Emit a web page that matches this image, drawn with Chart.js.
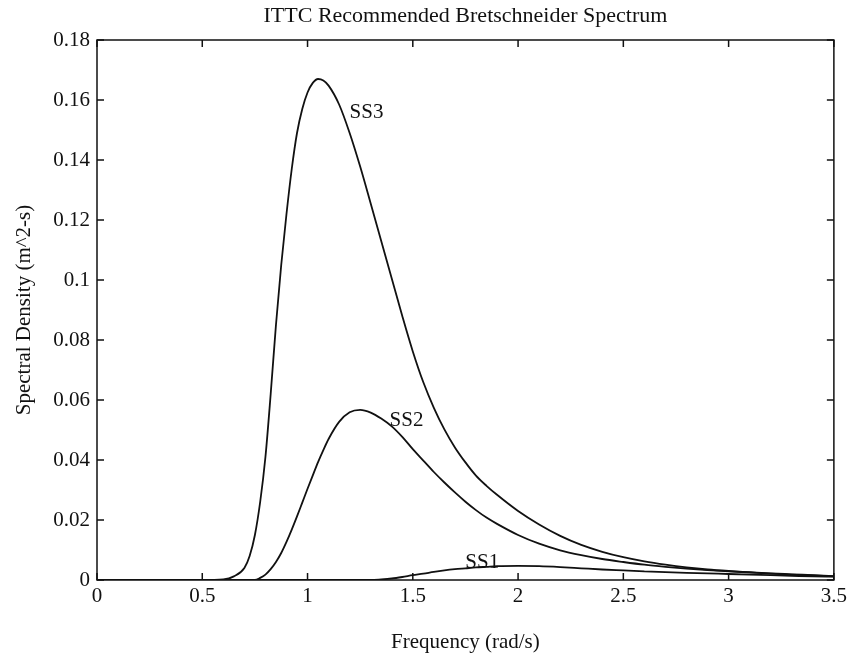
<!DOCTYPE html>
<html>
<head>
<meta charset="utf-8">
<title>ITTC Recommended Bretschneider Spectrum</title>
<script src="https://cdn.jsdelivr.net/npm/chart.js@4.4.1/dist/chart.umd.min.js"></script>
<style>
  html, body { margin: 0; padding: 0; background: #fff; }
  #wrap { width: 851px; height: 658px; }
</style>
</head>
<body>
<div id="wrap"><canvas id="chart" width="851" height="658"></canvas></div>
<script>
// frequency grid (rad/s) and spectral densities
const freq = [0, 0.5, 0.6, 0.65, 0.7, 0.725, 0.75, 0.775, 0.8, 0.825, 0.85, 0.875, 0.9, 0.925, 0.95, 0.975,
  1.0, 1.025, 1.05, 1.075, 1.1, 1.15, 1.2, 1.25, 1.3, 1.35, 1.4, 1.45, 1.5, 1.55, 1.6, 1.65, 1.7, 1.75, 1.8, 1.85, 1.9,
  2.0, 2.1, 2.2, 2.3, 2.4, 2.5, 2.6, 2.7, 2.8, 2.9, 3.0, 3.1, 3.2, 3.3, 3.4, 3.5];

const ss1 = [0, 0, 0, 0, 0, 0, 0, 0, 0, 0, 0, 0, 0, 0, 0, 0,
  0, 0, 0, 0, 0, 0, 0, 0, 0, 0.0002, 0.0005, 0.001, 0.0016, 0.0021, 0.0027, 0.0032, 0.0036, 0.0039, 0.0042, 0.0044, 0.0046,
  0.0047, 0.0046, 0.0043, 0.0039, 0.0035, 0.0032, 0.0029, 0.0026, 0.0024, 0.0022, 0.002, 0.0018, 0.0016, 0.0014, 0.0012, 0.0011];

const ss2 = [0, 0, 0, 0, 0, 0, 0, 0.0007, 0.0018, 0.0036, 0.006, 0.009, 0.0127, 0.0168, 0.0212, 0.0258,
  0.0304, 0.0349, 0.0393, 0.0433, 0.047, 0.0527, 0.0559, 0.0567, 0.0558, 0.0538, 0.0512, 0.0477, 0.0436, 0.0398, 0.036, 0.0325, 0.0292, 0.0261, 0.0233, 0.0208, 0.0187,
  0.015, 0.0121, 0.0099, 0.0083, 0.007, 0.006, 0.0051, 0.0044, 0.0038, 0.0033, 0.0029, 0.0025, 0.0021, 0.0018, 0.0015, 0.0012];

const ss3 = [0, 0, 0.0002, 0.0012, 0.004, 0.008, 0.015, 0.026, 0.041, 0.062, 0.085, 0.105, 0.122, 0.137, 0.149, 0.157,
  0.1625, 0.1657, 0.167, 0.1665, 0.1648, 0.1585, 0.149, 0.1378, 0.1255, 0.113, 0.1005, 0.088, 0.0762, 0.0659, 0.0574, 0.0502, 0.0442, 0.0392, 0.0348, 0.0314, 0.0284,
  0.023, 0.0185, 0.0147, 0.0117, 0.0094, 0.0076, 0.0062, 0.0051, 0.0042, 0.0035, 0.003, 0.0026, 0.0022, 0.0019, 0.0016, 0.0013];

const seriesNames = ['SS1', 'SS2', 'SS3'];
// curve label anchors, in data units
const labelFreq = [1.83, 1.47, 1.28];
const labelDensity = [0.006, 0.0533, 0.1557];

const xTicks = [0, 0.5, 1, 1.5, 2, 2.5, 3, 3.5];
const yTicks = [0, 0.02, 0.04, 0.06, 0.08, 0.1, 0.12, 0.14, 0.16, 0.18];

const chartTitle = 'ITTC Recommended Bretschneider Spectrum';

const ink = '#111';
const serif = '"Liberation Serif", "Times New Roman", serif';
Chart.defaults.font.family = serif;
Chart.defaults.font.size = 21;
Chart.defaults.color = ink;

const toPoints = (ys) => freq.map((f, i) => ({ x: f, y: ys[i] }));

// box round the plot, inward ticks on all four sides, title over the plot, curve labels
const framePlugin = {
  id: 'frame',
  afterDatasetsDraw(chart) {
    const { ctx, chartArea: a, scales: { x, y } } = chart;
    ctx.save();
    ctx.strokeStyle = ink;
    ctx.lineWidth = 1.5;
    ctx.strokeRect(a.left, a.top, a.right - a.left, a.bottom - a.top);
    ctx.beginPath();
    xTicks.forEach(v => {
      const px = x.getPixelForValue(v);
      ctx.moveTo(px, a.bottom); ctx.lineTo(px, a.bottom - 7);
      ctx.moveTo(px, a.top); ctx.lineTo(px, a.top + 7);
    });
    yTicks.forEach(v => {
      const py = y.getPixelForValue(v);
      ctx.moveTo(a.left, py); ctx.lineTo(a.left + 7, py);
      ctx.moveTo(a.right, py); ctx.lineTo(a.right - 7, py);
    });
    ctx.stroke();

    ctx.fillStyle = ink;
    ctx.textAlign = 'center';
    ctx.textBaseline = 'middle';
    ctx.font = '22px ' + serif;
    ctx.fillText(chartTitle, (a.left + a.right) / 2, a.top - 24);

    ctx.font = '21px ' + serif;
    seriesNames.forEach((n, i) => {
      ctx.fillText(n, x.getPixelForValue(labelFreq[i]), y.getPixelForValue(labelDensity[i]));
    });
    ctx.restore();
  }
};

const fmt = (v) => String(+Number(v).toFixed(2));

new Chart(document.getElementById('chart'), {
  type: 'line',
  data: {
    datasets: [
      { label: 'SS1', data: toPoints(ss1) },
      { label: 'SS2', data: toPoints(ss2) },
      { label: 'SS3', data: toPoints(ss3) }
    ].map(d => Object.assign(d, {
      borderColor: ink,
      borderWidth: 1.8,
      pointRadius: 0,
      fill: false,
      cubicInterpolationMode: 'monotone'
    }))
  },
  options: {
    responsive: false,
    animation: false,
    devicePixelRatio: 1,
    layout: { padding: { top: 40, right: 15, bottom: 0, left: 0 } },
    plugins: {
      legend: { display: false },
      tooltip: { enabled: false },
      title: { display: false }
    },
    scales: {
      x: {
        type: 'linear',
        min: 0,
        max: 3.5,
        grid: { display: false, drawTicks: false },
        border: { display: false },
        afterBuildTicks: s => { s.ticks = xTicks.map(v => ({ value: v })); },
        afterFit: s => { s.height = 78; },
        ticks: { padding: 4, autoSkip: false, maxRotation: 0, callback: fmt },
        title: {
          display: true,
          text: 'Frequency (rad/s)',
          padding: { top: 0, bottom: 3.4 }
        }
      },
      y: {
        min: 0,
        max: 0.18,
        grid: { display: false, drawTicks: false },
        border: { display: false },
        afterBuildTicks: s => { s.ticks = yTicks.map(v => ({ value: v })); },
        afterFit: s => { s.width = 97; },
        ticks: { padding: 7, autoSkip: false, callback: fmt },
        title: {
          display: true,
          text: 'Spectral Density (m^2-s)',
          padding: { top: 12, bottom: 0 }
        }
      }
    }
  },
  plugins: [framePlugin]
});
</script>
</body>
</html>
